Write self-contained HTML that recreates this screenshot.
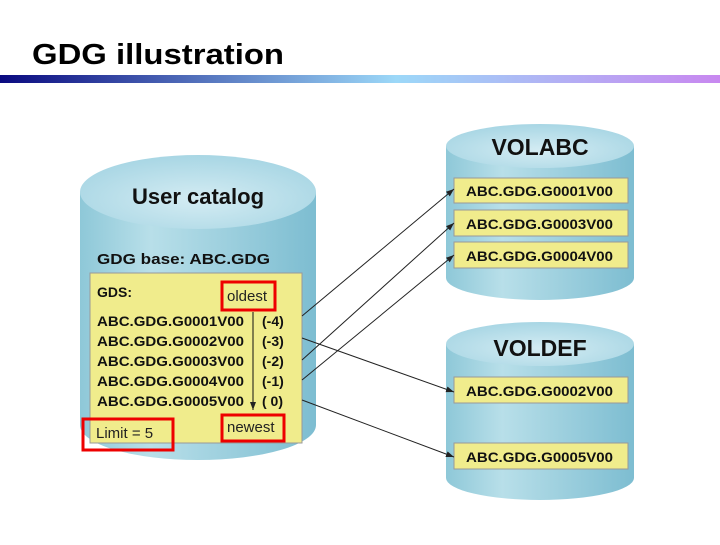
<!DOCTYPE html>
<html><head><meta charset="utf-8"><style>
body{margin:0;width:720px;height:540px;background:#fff;overflow:hidden;font-family:"Liberation Sans",sans-serif}
</style></head><body>
<svg width="720" height="540" viewBox="0 0 720 540" xmlns="http://www.w3.org/2000/svg" font-family="Liberation Sans, sans-serif">
<defs>
<linearGradient id="bar" x1="0" x2="1"><stop offset="0" stop-color="#0a0a80"/><stop offset="0.55" stop-color="#9cd8f8"/><stop offset="1" stop-color="#c888f0"/></linearGradient>
<linearGradient id="cyl" x1="0" x2="1"><stop offset="0" stop-color="#8ec8d8"/><stop offset="0.3" stop-color="#b8dfe9"/><stop offset="1" stop-color="#7dbdd1"/></linearGradient>
<radialGradient id="top" cx="0.5" cy="0.6" r="0.6"><stop offset="0" stop-color="#d4ecf3"/><stop offset="1" stop-color="#a8d6e4"/></radialGradient>
<marker id="ar" markerWidth="8" markerHeight="6" refX="8" refY="3" orient="auto"><path d="M0,0 L8,3 L0,6 z" fill="#222"/></marker>
</defs>
<text x="32" y="64" font-size="29" font-weight="bold" fill="#000" textLength="252" lengthAdjust="spacingAndGlyphs">GDG  illustration</text>
<rect x="0" y="75" width="720" height="8" fill="url(#bar)"/>

<path d="M80,192 L80,425 A118,35 0 0 0 316,425 L316,192 Z" fill="url(#cyl)"/>
<ellipse cx="198" cy="192" rx="118" ry="37" fill="url(#top)"/>
<text x="198" y="204" font-size="22" font-weight="bold" text-anchor="middle" fill="#111">User catalog</text>
<text x="97" y="264" font-size="15" font-weight="bold" fill="#111" textLength="173" lengthAdjust="spacingAndGlyphs">GDG base: ABC.GDG</text>
<rect x="90" y="273" width="212" height="170" fill="#f0ec8c" stroke="#999"/>
<text x="97" y="297" font-size="14" font-weight="bold" fill="#111">GDS:</text>
<g font-size="14" font-weight="bold" fill="#111">
<text x="97" y="326" textLength="147" lengthAdjust="spacingAndGlyphs">ABC.GDG.G0001V00</text><text x="262" y="326">(-4)</text>
<text x="97" y="346" textLength="147" lengthAdjust="spacingAndGlyphs">ABC.GDG.G0002V00</text><text x="262" y="346">(-3)</text>
<text x="97" y="366" textLength="147" lengthAdjust="spacingAndGlyphs">ABC.GDG.G0003V00</text><text x="262" y="366">(-2)</text>
<text x="97" y="386" textLength="147" lengthAdjust="spacingAndGlyphs">ABC.GDG.G0004V00</text><text x="262" y="386">(-1)</text>
<text x="97" y="406" textLength="147" lengthAdjust="spacingAndGlyphs">ABC.GDG.G0005V00</text><text x="262" y="406">( 0)</text>
</g>
<line x1="253" y1="312" x2="253" y2="410" stroke="#111" marker-end="url(#ar)"/>
<rect x="222" y="282" width="53" height="28" fill="none" stroke="#e00" stroke-width="3"/>
<text x="227" y="301" font-size="15" fill="#222">oldest</text>
<rect x="222" y="415" width="62" height="26" fill="none" stroke="#e00" stroke-width="3"/>
<text x="227" y="432" font-size="15" fill="#222">newest</text>
<rect x="83" y="419" width="90" height="31" fill="none" stroke="#e00" stroke-width="3"/>
<text x="96" y="438" font-size="15" fill="#222">Limit = 5</text>

<path d="M446,146 L446,278 A94,22 0 0 0 634,278 L634,146 Z" fill="url(#cyl)"/>
<ellipse cx="540" cy="146" rx="94" ry="22" fill="url(#top)"/>
<text x="540" y="155" font-size="23" font-weight="bold" text-anchor="middle" fill="#111">VOLABC</text>
<path d="M446,344 L446,478 A94,22 0 0 0 634,478 L634,344 Z" fill="url(#cyl)"/>
<ellipse cx="540" cy="344" rx="94" ry="22" fill="url(#top)"/>
<text x="540" y="356" font-size="23" font-weight="bold" text-anchor="middle" fill="#111">VOLDEF</text>

<g font-size="14" font-weight="bold" fill="#111">
<rect x="454" y="178" width="174" height="25" fill="#f0ec8c" stroke="#999"/><text x="466" y="196" textLength="147" lengthAdjust="spacingAndGlyphs">ABC.GDG.G0001V00</text>
<rect x="454" y="210" width="174" height="26" fill="#f0ec8c" stroke="#999"/><text x="466" y="229" textLength="147" lengthAdjust="spacingAndGlyphs">ABC.GDG.G0003V00</text>
<rect x="454" y="242" width="174" height="26" fill="#f0ec8c" stroke="#999"/><text x="466" y="261" textLength="147" lengthAdjust="spacingAndGlyphs">ABC.GDG.G0004V00</text>
<rect x="454" y="377" width="174" height="26" fill="#f0ec8c" stroke="#999"/><text x="466" y="396" textLength="147" lengthAdjust="spacingAndGlyphs">ABC.GDG.G0002V00</text>
<rect x="454" y="443" width="174" height="26" fill="#f0ec8c" stroke="#999"/><text x="466" y="462" textLength="147" lengthAdjust="spacingAndGlyphs">ABC.GDG.G0005V00</text>
</g>
<g stroke="#222" stroke-width="1" marker-end="url(#ar)">
<line x1="302" y1="316" x2="454" y2="189"/>
<line x1="302" y1="338" x2="454" y2="392"/>
<line x1="302" y1="360" x2="454" y2="223"/>
<line x1="302" y1="380" x2="454" y2="255"/>
<line x1="302" y1="400" x2="454" y2="457"/>
</g>
</svg>
</body></html>
